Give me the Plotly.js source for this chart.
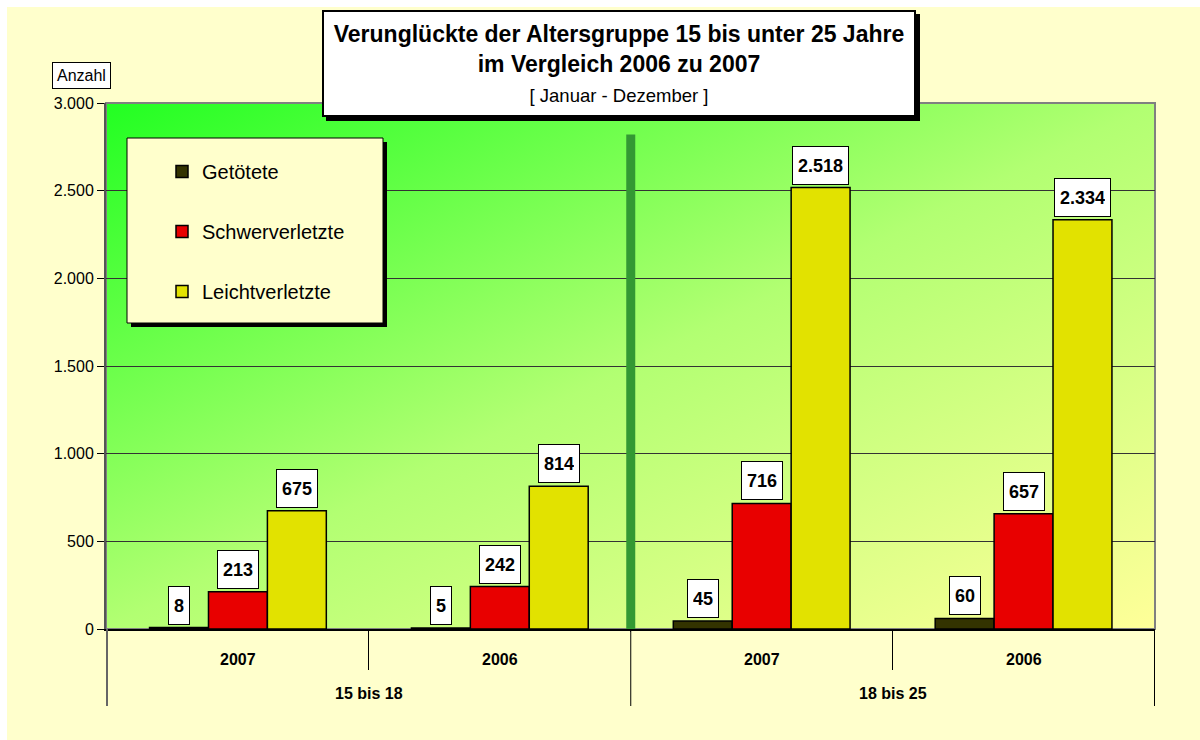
<!DOCTYPE html>
<html>
<head>
<meta charset="utf-8">
<script src="https://cdn.plot.ly/plotly-3.0.1.min.js"></script>
<style>
  html, body { margin: 0; padding: 0; background: #fff; }
  #chart { width: 1200px; height: 740px; }
</style>
</head>
<body>
<div id="chart"></div>
<script>
// Altersgruppen und Jahre (zweistufige Kategorienachse)
const groups = ['15 bis 18', '15 bis 18', '18 bis 25', '18 bis 25'];
const years = ['2007', '2006', '2007', '2006'];

const seriesNames = ['Getötete', 'Schwerverletzte', 'Leichtverletzte'];
const getoetete = [8, 5, 45, 60];
const schwerverletzte = [213, 242, 716, 657];
const leichtverletzte = [675, 814, 2518, 2334];

const barColors = ['#333300', '#E80000', '#E2E200'];
const bargap = 0.325;

// Plotbereich in Pixeln
const L = 106, R = 1155, T = 103, B = 629;
const px2x = px => (px - L) / (R - L);
const py2y = py => (B - py) / (B - T);

function fmt(v) {
    return String(v).replace(/\B(?=(\d{3})+(?!\d))/g, '.');
}

const allSeries = [getoetete, schwerverletzte, leichtverletzte];

const traces = allSeries.map((vals, j) => ({
    x: [groups, years],
    y: vals,
    type: 'bar',
    name: seriesNames[j],
    legendgroup: 'g' + j,
    marker: { color: barColors[j], line: { color: '#000', width: 1.5 } },
    hoverinfo: 'skip'
}));

// Wertebeschriftungen in weißen Kästchen
const barW = (1 - bargap) / 3;
const labels = [];
allSeries.forEach((vals, j) => {
    vals.forEach((v, i) => {
        labels.push({
            xref: 'x', yref: 'y',
            x: i + (j - 1) * barW, y: v,
            xanchor: 'center', yanchor: 'bottom', yshift: 3,
            text: '<b>' + fmt(v) + '</b>',
            showarrow: false,
            font: { family: 'Arial, Liberation Sans', size: 18, color: '#000' },
            bgcolor: '#fff', bordercolor: '#000', borderwidth: 1,
            borderpad: 5, height: 27
        });
    });
});

// Kategorienbeschriftung unter der Achse (Jahr und Altersgruppe)
const axisLabels = [];
years.forEach((yr, i) => {
    axisLabels.push({
        xref: 'x', yref: 'paper', x: i, y: py2y(659),
        xanchor: 'center', yanchor: 'middle', showarrow: false,
        text: '<b>' + yr + '</b>',
        font: { family: 'Arial, Liberation Sans', size: 16, color: '#000' }
    });
});
const groupNames = [...new Set(groups)];
const dividers = [];
groupNames.forEach(g => {
    const idx = groups.map((v, i) => v === g ? i : -1).filter(i => i >= 0);
    const mid = idx.reduce((a, b) => a + b, 0) / idx.length;
    axisLabels.push({
        xref: 'x', yref: 'paper', x: mid, y: py2y(693),
        xanchor: 'center', yanchor: 'middle', showarrow: false,
        text: '<b>' + g + '</b>',
        font: { family: 'Arial, Liberation Sans', size: 16, color: '#000' }
    });
    dividers.push(idx[0] - 0.5);
    dividers.push(idx[idx.length - 1] + 0.5);
});
const dividerShapes = [...new Set(dividers)].map((d, k) => ({
    type: 'line', xref: 'x', yref: 'paper', x0: d, x1: d, y0: 0, y1: py2y(706),
    line: { color: k === 0 ? '#666' : '#000', width: k === 0 ? 2 : 1 }
}));

// Verlauf für den Plotbereich
const gradSvg = "<svg xmlns='http://www.w3.org/2000/svg' width='100' height='100' viewBox='0 0 100 100' preserveAspectRatio='none'>" +
    "<defs><linearGradient id='g' x1='0' y1='0' x2='1' y2='1'>" +
    "<stop offset='0' stop-color='#22FF22'/><stop offset='0.5' stop-color='#B2FF72'/><stop offset='1' stop-color='#FFFF99'/>" +
    "</linearGradient></defs><rect width='100' height='100' fill='url(#g)'/></svg>";
const gradUri = 'data:image/svg+xml;charset=utf-8,' + encodeURIComponent(gradSvg);

const shapes = [
    // weißer Rand oben und links
    { type: 'rect', xref: 'paper', yref: 'paper', x0: px2x(0), x1: px2x(1200), y0: py2y(0), y1: py2y(7),
      fillcolor: '#fff', line: { width: 0 }, layer: 'below' },
    { type: 'rect', xref: 'paper', yref: 'paper', x0: px2x(0), x1: px2x(7), y0: py2y(0), y1: py2y(740),
      fillcolor: '#fff', line: { width: 0 }, layer: 'below' },
    // Rahmen Plotbereich
    { type: 'rect', xref: 'paper', yref: 'paper', x0: 0, x1: 1, y0: 0, y1: 1,
      line: { color: '#808080', width: 2 }, layer: 'below' },
    // Trennlinie zwischen den Altersgruppen
    { type: 'line', xref: 'x', yref: 'y', x0: 1.5, x1: 1.5, y0: 0, y1: 2820,
      line: { color: '#339933', width: 9 }, layer: 'above' },
    // Legendenkasten mit Schatten
    { type: 'rect', xref: 'paper', yref: 'paper', x0: px2x(131), x1: px2x(387), y0: py2y(142), y1: py2y(327),
      fillcolor: '#000', line: { width: 0 }, layer: 'above' },
    { type: 'rect', xref: 'paper', yref: 'paper', x0: px2x(127), x1: px2x(383), y0: py2y(138), y1: py2y(323),
      fillcolor: '#FFFFCC', line: { color: '#000', width: 1 }, layer: 'above' },
    // Schatten Titelkasten
    { type: 'rect', xref: 'paper', yref: 'paper', x0: px2x(326), x1: px2x(920), y0: py2y(14), y1: py2y(121),
      fillcolor: '#000', line: { width: 0 }, layer: 'above' }
].concat(dividerShapes);

const annotations = labels.concat(axisLabels, [
    {
        xref: 'paper', yref: 'paper', x: px2x(619), y: py2y(10),
        xanchor: 'center', yanchor: 'top',
        text: '<b>Verunglückte der Altersgruppe 15 bis unter 25 Jahre</b><br>' +
              '<b>im Vergleich 2006 zu 2007</b><br>' +
              '<span style="font-size:18.5px">[ Januar - Dezember ]</span>',
        showarrow: false,
        font: { family: 'Arial, Liberation Sans', size: 23, color: '#000' },
        bgcolor: '#fff', bordercolor: '#000', borderwidth: 2, borderpad: 1,
        width: 588, height: 101
    },
    {
        xref: 'paper', yref: 'paper', x: px2x(81), y: py2y(75),
        xanchor: 'center', yanchor: 'middle',
        text: 'Anzahl', showarrow: false,
        font: { family: 'Arial, Liberation Sans', size: 16, color: '#000' },
        bgcolor: '#fff', bordercolor: '#000', borderwidth: 1, borderpad: 4
    }
]);

const layout = {
    width: 1200,
    height: 740,
    margin: { l: L, r: 1200 - R, t: T, b: 740 - B },
    paper_bgcolor: '#FFFFCC',
    plot_bgcolor: 'rgba(0,0,0,0)',
    separators: ',.',
    font: { family: 'Arial, Liberation Sans', color: '#000' },
    barmode: 'group',
    bargap: bargap,
    bargroupgap: 0,
    showlegend: true,
    legend: {
        x: px2x(162), y: py2y(152), xanchor: 'left', yanchor: 'top',
        bgcolor: 'rgba(0,0,0,0)', borderwidth: 0,
        font: { size: 20, color: '#000' },
        traceorder: 'grouped', tracegroupgap: 31
    },
    xaxis: {
        type: 'multicategory',
        showline: true, linecolor: '#000', linewidth: 2,
        ticks: 'outside', tickson: 'boundaries', ticklen: 39, tickcolor: '#000', tickwidth: 1,
        showticklabels: false,
        showgrid: false
    },
    yaxis: {
        range: [0, 3000], dtick: 500, tickformat: ',d',
        showline: true, linecolor: '#555', linewidth: 2,
        ticks: 'outside', ticklen: 7, tickcolor: '#000',
        gridcolor: '#333', gridwidth: 1, zeroline: false,
        tickfont: { size: 16, color: '#000' }
    },
    images: [{
        source: gradUri, xref: 'paper', yref: 'paper',
        x: 0, y: 1, sizex: 1, sizey: 1, xanchor: 'left', yanchor: 'top',
        sizing: 'stretch', layer: 'below'
    }],
    shapes: shapes,
    annotations: annotations
};

Plotly.newPlot('chart', traces, layout, { displayModeBar: false, staticPlot: true });
</script>
</body>
</html>
